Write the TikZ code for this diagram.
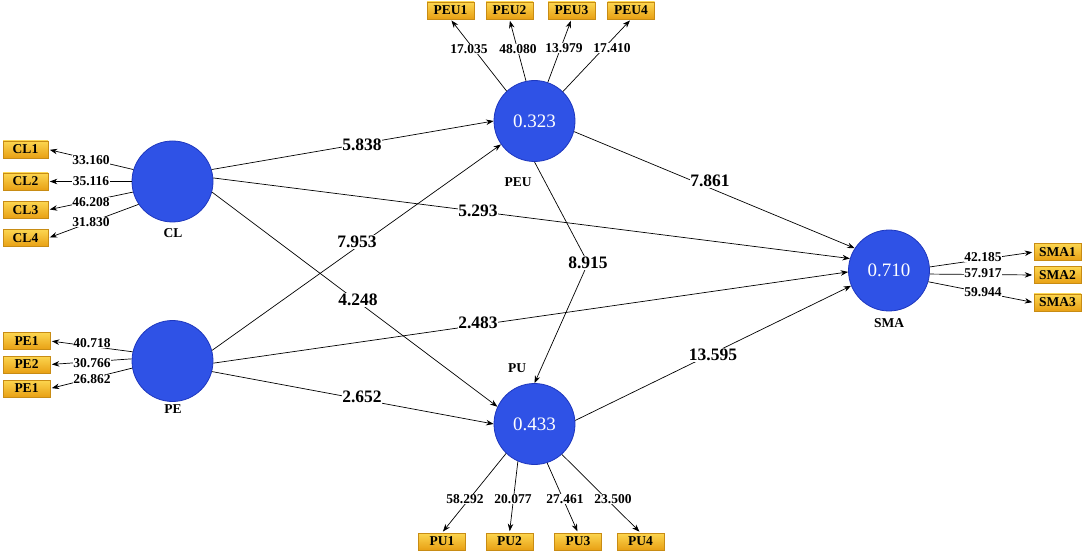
\documentclass[tikz,border=0pt]{standalone}
\usepackage{fontspec}
\setmainfont{Liberation Serif}
\usetikzlibrary{arrows.meta}
\definecolor{lvfill}{RGB}{47,82,230}
\definecolor{lvdraw}{RGB}{30,55,190}
\definecolor{boxtop}{RGB}{252,214,80}
\definecolor{boxbot}{RGB}{232,160,20}
\definecolor{boxdraw}{RGB}{200,140,20}
\begin{document}
\begin{tikzpicture}[x=1pt,y=-1pt,
  lv/.style={circle,draw=lvdraw,line width=0.8pt,fill=lvfill,minimum size=81pt,inner sep=0pt,text=white,font=\fontsize{19}{22}\selectfont},
  ind/.style={rectangle,draw=boxdraw,line width=0.6pt,top color=boxtop,bottom color=boxbot,minimum width=47pt,minimum height=17pt,inner sep=0pt,font=\bfseries\fontsize{13.5}{15}\selectfont},
  ld/.style={fill=white,inner sep=0.8pt,font=\bfseries\fontsize{13.5}{15}\selectfont},
  pth/.style={fill=white,inner sep=0.8pt,font=\bfseries\fontsize{17.5}{20}\selectfont},
  nm/.style={font=\bfseries\fontsize{13.5}{15}\selectfont},
  arr/.style={-{Stealth[length=7.5pt,width=5.5pt]},line width=0.7pt},
  larr/.style={arr,shorten >=1.5pt},
]
\useasboundingbox[fill=white] (0,0) rectangle (1084,553);

% latent variables
\node[lv] (CL) at (172.5,181.5) {};
\node[lv] (PE) at (172.5,361) {};
\node[lv] (PEU) at (534.5,121) {0.323};
\node[lv] (PU) at (534.5,424) {0.433};
\node[lv] (SMA) at (889,270.5) {0.710};

% names
\node[nm] (nCL) at (173,233) {CL};
\node[nm] (nPE) at (173,409) {PE};
\node[nm] (nPEU) at (518,182) {PEU};
\node[nm] (nPU) at (517,368) {PU};
\node[nm] (nSMA) at (889,323) {SMA};

% indicators
\node[ind,minimum width=45pt] (CL1) at (25.5,149.5) {CL1};
\node[ind,minimum width=45pt] (CL2) at (25.5,181.5) {CL2};
\node[ind,minimum width=45pt] (CL3) at (25.5,209.8) {CL3};
\node[ind,minimum width=45pt] (CL4) at (25.5,238) {CL4};
\node[ind] (PEa) at (26.5,341) {PE1};
\node[ind] (PEb) at (26.5,364.5) {PE2};
\node[ind] (PEc) at (26.5,388.5) {PE1};
\node[ind] (PEU1) at (450.5,10.5) {PEU1};
\node[ind] (PEU2) at (509.5,10.5) {PEU2};
\node[ind] (PEU3) at (571.5,10.5) {PEU3};
\node[ind] (PEU4) at (631,10.5) {PEU4};
\node[ind] (PU1) at (442,541.5) {PU1};
\node[ind] (PU2) at (509.5,541.5) {PU2};
\node[ind] (PU3) at (578,541.5) {PU3};
\node[ind] (PU4) at (640.5,541.5) {PU4};
\node[ind] (SMA1) at (1057.5,252) {SMA1};
\node[ind] (SMA2) at (1057.5,275) {SMA2};
\node[ind] (SMA3) at (1057.5,302.5) {SMA3};

% loadings arrows
\draw[larr] (CL.163) -- (CL1.east);
\draw[larr] (CL.180) -- (CL2.east);
\draw[larr] (CL.195) -- (CL3.east);
\draw[larr] (CL.214) -- (CL4.east);
\draw[larr] (PE.167) -- (PEa.east);
\draw[larr] (PE.177) -- (PEb.east);
\draw[larr] (PE.190) -- (PEc.east);
\draw[larr] (PEU.133.5) -- (PEU1.south);
\draw[larr] (PEU.102) -- (PEU2.south);
\draw[larr] (PEU.71) -- (PEU3.south);
\draw[larr] (PEU.46.5) -- (PEU4.south);
\draw[larr] (PU.226.5) -- (PU1.north);
\draw[larr] (PU.246.5) -- (PU2.north);
\draw[larr] (PU.288) -- (PU3.north);
\draw[larr] (PU.312.6) -- (PU4.north);
\draw[larr] (SMA.5) -- (SMA1.west);
\draw[larr] (SMA.-5) -- (SMA2.west);
\draw[larr] (SMA.-16) -- (SMA3.west);

% structural paths
\draw[arr] (CL.17.6) -- (PEU.180);
\draw[arr] (CL.5) -- (SMA.163);
\draw[arr] (CL.-15) -- (PU.155.5);
\draw[arr] (PE.15.6) -- (PEU.215);
\draw[arr] (PE.-3) -- (SMA.182);
\draw[arr] (PE.-15.6) -- (PU.180);
\draw[arr] (PEU.-15) -- (SMA.147.6);
\draw[arr] (PU.5) -- (SMA.202);
\node[font=\bfseries\fontsize{17.5}{20}\selectfont,inner sep=1pt] (p8915) at (588,263) {8.915};
\draw[arr] (PEU.south) -- (p8915) -- (PU.north);

% loading labels
\node[ld] (l1) at (91,160) {33.160};
\node[ld] (l2) at (91,181) {35.116};
\node[ld] (l3) at (91,202) {46.208};
\node[ld] (l4) at (91,222) {31.830};
\node[ld] (l5) at (92,343) {40.718};
\node[ld] (l6) at (92,363) {30.766};
\node[ld] (l7) at (92,379) {26.862};
\node[ld] (l8) at (469,49) {17.035};
\node[ld] (l9) at (518,49) {48.080};
\node[ld] (l10) at (564,48) {13.979};
\node[ld] (l11) at (612,48) {17.410};
\node[ld] (l12) at (465,499) {58.292};
\node[ld] (l13) at (513,499) {20.077};
\node[ld] (l14) at (565,499) {27.461};
\node[ld] (l15) at (613,499) {23.500};
\node[ld] (l16) at (983,257) {42.185};
\node[ld] (l17) at (983,273) {57.917};
\node[ld] (l18) at (983,292) {59.944};

% path labels
\node[pth] (p1) at (362,145) {5.838};
\node[pth] (p2) at (478,211) {5.293};
\node[pth] (p3) at (357,242) {7.953};
\node[pth] (p4) at (358,300) {4.248};
\node[pth] (p5) at (710,181) {7.861};
\node[pth] (p6) at (478,323) {2.483};
\node[pth] (p7) at (362,397) {2.652};
\node[pth] (p8) at (713,355) {13.595};
\end{tikzpicture}
\end{document}
